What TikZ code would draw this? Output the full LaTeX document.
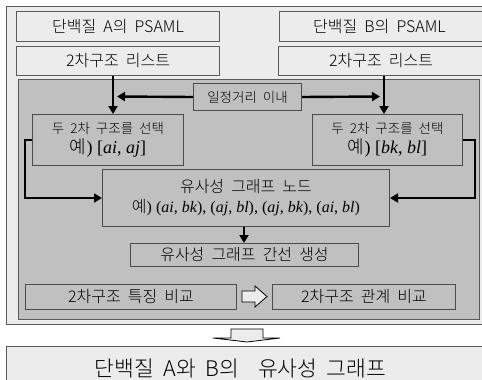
\documentclass[tikz,border=0pt]{standalone}
\usepackage{fontspec}
\setmainfont{Noto Sans CJK KR Light}[WordSpace=2]
\newfontfamily\tms{Liberation Serif}
\usetikzlibrary{arrows.meta,calc}
\definecolor{lightg}{HTML}{ECECEC}
\definecolor{darkg}{HTML}{C0C0C0}
\definecolor{edgeg}{HTML}{5A5A5A}
\begin{document}
\begin{tikzpicture}[x=1pt,y=-1pt,
  font=\fontsize{16}{19}\selectfont,
  box/.style={draw=edgeg, line width=1pt, inner sep=0pt, align=center, anchor=north west},
  lbox/.style={box, fill=lightg},
  dbox/.style={box, fill=darkg, draw=black!70},
  conn/.style={line width=2.4pt, -{Triangle[length=8pt,width=9pt]}},
  hollow/.style={draw=black, line width=0.8pt, fill=lightg},
  small/.style={font=\fontsize{13.5}{16}\selectfont}
]
\clip (0,0) rectangle (482,380);
% outer frame
\node[lbox, minimum width=484pt, minimum height=318pt] (outer) at (6,6) {};
% top boxes
\node[lbox, minimum width=203pt, minimum height=30pt] (pa) at (16,11) {단백질 A의 PSAML};
\node[lbox, minimum width=203pt, minimum height=29pt] (la) at (16,46) {2차구조 리스트};
\node[lbox, minimum width=206pt, minimum height=30pt] (pb) at (279,11) {\hspace*{-6pt}단백질 B의 PSAML};
\node[lbox, minimum width=207pt, minimum height=29pt] (lb) at (278,46) {\hspace*{-2pt}2차구조 리스트};
% inner dark area
\node[dbox, draw=edgeg, minimum width=461pt, minimum height=240pt] (inner) at (18,79) {};
% distance box
\node[dbox, small, minimum width=108pt, minimum height=27pt] (dist) at (193,83) {일정거리 이내};
% selection boxes
\node[dbox, minimum width=151pt, minimum height=51pt] (sa) at (32,114)
  {{\fontsize{13.5}{15}\selectfont 두 2차 구조를 선택}\\[1pt]
   {\fontsize{18}{20}\selectfont 예{\tms) [\textit{ai}, \textit{aj}]}}};
\node[dbox, minimum width=150pt, minimum height=51pt] (sb) at (312,114)
  {{\fontsize{13.5}{15}\selectfont 두 2차 구조를 선택}\\[1pt]
   {\fontsize{18}{20}\selectfont 예{\tms) [\textit{bk}, \textit{bl}]}}};
% similarity node box
\node[dbox, minimum width=287pt, minimum height=57pt] (sim) at (102,169)
  {유사성 그래프 노드\\[1pt]
   {\fontsize{16}{18}\selectfont 예{\tms) (\textit{ai}, \textit{bk}), (\textit{aj}, \textit{bl}), (\textit{aj}, \textit{bk}), (\textit{ai}, \textit{bl})}}};
% edge generation
\node[dbox, minimum width=228pt, minimum height=23pt] (edge) at (130,243) {유사성 그래프 간선 생성};
% bottom row
\node[dbox, minimum width=211pt, minimum height=25pt] (feat) at (25,284) {2차구조 특징 비교};
\node[dbox, minimum width=183pt, minimum height=25pt] (rel) at (272,284) {2차구조 관계 비교};
% result box
\node[lbox, minimum width=484pt, minimum height=44pt, font=\fontsize{21.5}{23}\selectfont] (res) at (6,346)
  {\raisebox{-4pt}{\hspace*{-16pt}단백질 A와 B의 \ 유사성 그래프}};

% connectors
\coordinate (ax) at (113,0);
\coordinate (bx) at (384,0);
\draw[conn] (la.south -| ax) -- (sa.north -| ax);
\draw[conn] (lb.south -| bx) -- (sb.north -| bx);
\coordinate (tl) at (117,96.5);
\coordinate (tr) at (380,96.5);
\draw[conn] (dist.west) -- (tl);
\draw[conn] (dist.east) -- (tr);
\draw[conn] (sa.west) -- ++(-7,0) |- (sim.west);
\draw[conn] (sb.east) -- ++(12,0) |- (sim.east);
\coordinate (sx) at (244,0);
\draw[conn] (sim.south -| sx) -- (edge.north -| sx);

% hollow arrow between feature boxes
\coordinate (ht) at (267,296.5);
\path[hollow] (242,291) -- (255,291) -- (255,286) -- (ht) -- (255,307) -- (255,302) -- (242,302) -- cycle;
% hollow down arrow to result
\coordinate (dt) at (247,342);
\path[hollow] (231,329) -- (263,329) -- (263,338) -- (280,338) -- (dt) -- (213,338) -- (231,338) -- cycle;
\end{tikzpicture}
\end{document}
